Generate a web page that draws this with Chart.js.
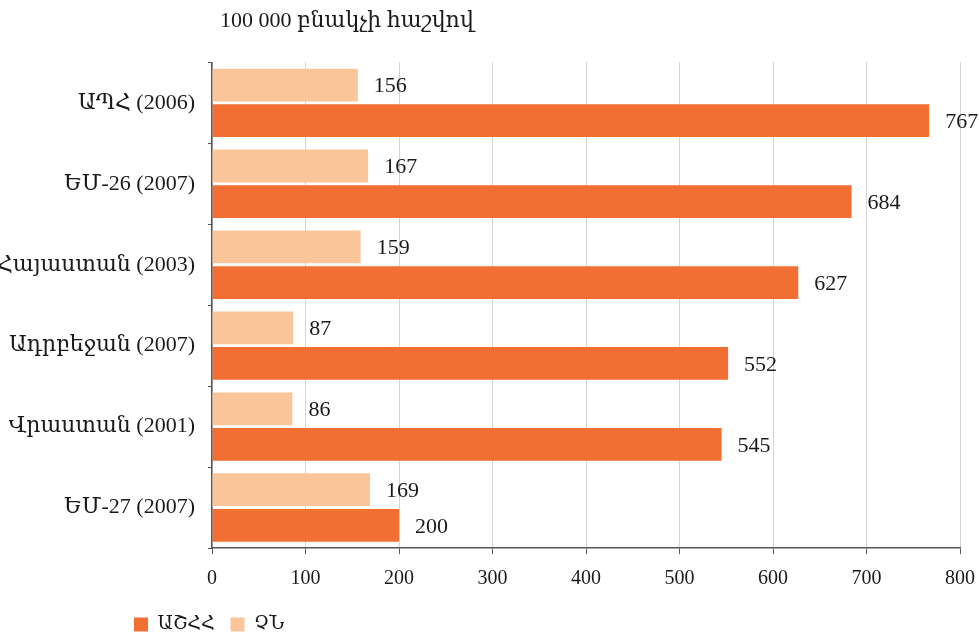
<!DOCTYPE html>
<html>
<head>
<meta charset="utf-8">
<script src="https://cdn.jsdelivr.net/npm/chart.js@4.4.0/dist/chart.umd.min.js"></script>
<style>
  html, body { margin: 0; padding: 0; background: #fff; }
  canvas { display: block; }
</style>
</head>
<body>
<canvas id="myChart" width="979" height="635"></canvas>
<script>
var categories = ['ԱՊՀ (2006)', 'ԵՄ-26 (2007)', 'Հայաստան (2003)', 'Ադրբեջան (2007)', 'Վրաստան (2001)', 'ԵՄ-27 (2007)'];
var seriesNames = ['ՉՆ', 'ԱՇՀՀ'];
var chnValues = [156, 167, 159, 87, 86, 169];
var ashhhValues = [767, 684, 627, 552, 545, 200];
var xTicks = [0, 100, 200, 300, 400, 500, 600, 700, 800];

var serif = '"Liberation Serif", "DejaVu Serif", serif';

// values written at the end of each bar
var barLabels = {
  id: 'barLabels',
  afterDatasetsDraw: function (chart) {
    var ctx = chart.ctx;
    ctx.save();
    ctx.font = '22px ' + serif;
    ctx.fillStyle = '#1a1a1a';
    ctx.textAlign = 'left';
    ctx.textBaseline = 'middle';
    chart.data.datasets.forEach(function (ds, i) {
      chart.getDatasetMeta(i).data.forEach(function (bar, j) {
        ctx.fillText(String(ds.data[j]), bar.x + 16, bar.y + 1.5);
      });
    });
    ctx.restore();
  }
};

// nudge title and legend to where the original has them
var placeBoxes = {
  id: 'placeBoxes',
  afterLayout: function (chart) {
    if (chart.legend) {
      chart.legend.left += 118;
      chart.legend.right += 118;
      chart.legend.top -= 5;
      chart.legend.bottom -= 5;
    }
    if (chart.titleBlock) {
      chart.titleBlock.left += 8;
      chart.titleBlock.right += 8;
    }
  }
};

var ctx = document.getElementById('myChart').getContext('2d');
var myChart = new Chart(ctx, {
  type: 'bar',
  data: {
    labels: categories,
    datasets: [{
      label: seriesNames[0],
      data: chnValues,
      backgroundColor: '#FBC59A',
      categoryPercentage: 0.88,
      barPercentage: 0.92
    }, {
      label: seriesNames[1],
      data: ashhhValues,
      backgroundColor: '#F26F33',
      categoryPercentage: 0.88,
      barPercentage: 0.92
    }]
  },
  options: {
    indexAxis: 'y',
    responsive: false,
    animation: false,
    devicePixelRatio: 1,
    layout: {
      padding: { left: 0, right: 19, top: 0, bottom: -14 }
    },
    scales: {
      x: {
        min: 0,
        max: 800,
        afterBuildTicks: function (scale) {
          scale.ticks = xTicks.map(function (v) { return { value: v }; });
        },
        afterFit: function (scale) {
          scale.paddingRight = 0;
        },
        grid: {
          color: '#d4d4d4',
          tickColor: '#555',
          tickLength: 6,
          lineWidth: 1
        },
        border: { color: '#555', width: 1.5 },
        ticks: {
          color: '#1a1a1a',
          padding: 13,
          maxRotation: 0,
          font: { family: serif, size: 20 }
        }
      },
      y: {
        afterFit: function (scale) { scale.width = 212; },
        grid: {
          offset: true,
          drawOnChartArea: false,
          tickColor: '#555',
          tickLength: 4
        },
        border: { color: '#555', width: 1.5 },
        ticks: {
          color: '#1a1a1a',
          padding: 13,
          font: { family: serif, size: 22 }
        }
      }
    },
    plugins: {
      title: {
        display: true,
        text: '100 000 բնակչի հաշվով',
        align: 'start',
        fullSize: false,
        color: '#1a1a1a',
        font: { family: serif, size: 22, weight: 'normal' },
        padding: { top: 8, bottom: 28 }
      },
      legend: {
        position: 'bottom',
        align: 'start',
        reverse: true,
        labels: {
          boxWidth: 14,
          boxHeight: 14,
          padding: 16,
          color: '#1a1a1a',
          font: { family: serif, size: 19 }
        }
      },
      tooltip: { enabled: false }
    }
  },
  plugins: [barLabels, placeBoxes]
});
</script>
</body>
</html>
